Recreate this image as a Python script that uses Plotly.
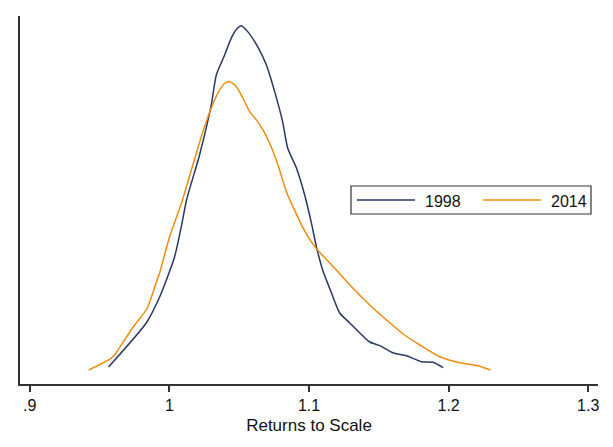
import plotly.graph_objects as go

# Kernel density estimates of Returns to Scale
rts_1998 = [0.9564, 0.9834, 0.9930, 1.0037, 1.0085, 1.0123, 1.0216, 1.0300, 1.0336,
            1.0396, 1.0444, 1.0482, 1.0515, 1.0561, 1.0632, 1.0695, 1.0754, 1.0811,
            1.0847, 1.0910, 1.0969, 1.1017, 1.1053, 1.1098, 1.1161, 1.1220, 1.1292,
            1.1364, 1.1435, 1.1507, 1.1600, 1.1698, 1.1806, 1.1887, 1.1961]
dens_1998 = [0.607, 2.179, 3.107, 4.536, 5.607, 6.571, 8.179, 9.964, 11.036,
             11.75, 12.357, 12.679, 12.796, 12.582, 12.046, 11.393, 10.439, 9.368,
             8.429, 7.714, 6.75, 5.75, 4.904, 4.071, 3.25, 2.536, 2.179,
             1.821, 1.5, 1.368, 1.118, 1.011, 0.796, 0.775, 0.582]

rts_2014 = [0.9423, 0.9571, 0.9607, 0.9738, 0.9840, 0.9912, 0.9930, 1.0001, 1.0087,
            1.0168, 1.0240, 1.0300, 1.0360, 1.0396, 1.0432, 1.0480, 1.0527, 1.0575,
            1.0623, 1.0670, 1.0718, 1.0778, 1.0838, 1.0885, 1.0957, 1.1041, 1.1196,
            1.1315, 1.1435, 1.1555, 1.1674, 1.1794, 1.1937, 1.2080, 1.2211, 1.2300]
dens_2014 = [0.5, 0.875, 1.036, 2.018, 2.696, 3.714, 3.964, 5.25, 6.464,
             7.821, 9.011, 9.857, 10.5, 10.739, 10.796, 10.618, 10.204, 9.725,
             9.429, 9.071, 8.596, 7.821, 6.868, 6.332, 5.571, 4.904, 4.071,
             3.418, 2.821, 2.286, 1.786, 1.393, 0.975, 0.761, 0.654, 0.5]

x_ticks = [0.9, 1.0, 1.1, 1.2, 1.3]
x_tick_labels = [".9", "1", "1.1", "1.2", "1.3"]
series_names = ["1998", "2014"]
series_colors = ["#2a3766", "#f28c0f"]

W, H = 613, 447
ML, MR, MT, MB = 20, 15, 16, 63
PW, PH = W - ML - MR, H - MT - MB


def px_x(p):
    return (p - ML) / PW


def px_y(p):
    return (H - MB - p) / PH


fig = go.Figure()
for xs, ys, name, col in [(rts_1998, dens_1998, series_names[0], series_colors[0]),
                          (rts_2014, dens_2014, series_names[1], series_colors[1])]:
    fig.add_trace(go.Scatter(x=xs, y=ys, mode="lines", name=name, showlegend=False,
                             line=dict(color=col, width=1.5, shape="spline", smoothing=0.6)))

# Legend (Stata-style boxed legend)
shapes = [dict(type="rect", xref="paper", yref="paper",
               x0=px_x(351), x1=px_x(591), y0=px_y(214), y1=px_y(186),
               line=dict(color="#333333", width=1.2), fillcolor="white", layer="above")]
annotations = []
for i, (name, col) in enumerate(zip(series_names, series_colors)):
    x0 = 357 + i * 126
    shapes.append(dict(type="line", xref="paper", yref="paper",
                       x0=px_x(x0), x1=px_x(x0 + 58), y0=px_y(200), y1=px_y(200),
                       line=dict(color=col, width=1.5), layer="above"))
    annotations.append(dict(xref="paper", yref="paper", x=px_x(x0 + 66), y=px_y(201),
                            xanchor="left", yanchor="middle", text=name, showarrow=False,
                            font=dict(size=16, color="#111111")))

fig.update_layout(
    width=W, height=H,
    margin=dict(l=ML, r=MR, t=MT, b=MB),
    paper_bgcolor="white", plot_bgcolor="white",
    font=dict(family="Liberation Sans, Arial, sans-serif", size=16, color="#111111"),
    showlegend=False,
    shapes=shapes, annotations=annotations,
    xaxis=dict(range=[0.893, 1.307], tickvals=x_ticks, ticktext=x_tick_labels,
               showgrid=False, zeroline=False, showline=True, linecolor="#333333",
               linewidth=1.5, ticks="outside", ticklen=6, tickcolor="#333333",
               tickwidth=1.5, tickfont=dict(size=16),
               title=dict(text="Returns to Scale", font=dict(size=17), standoff=6)),
    yaxis=dict(range=[0, 13.14], showgrid=False, zeroline=False, showline=True,
               linecolor="#333333", linewidth=1.5, showticklabels=False, ticks=""),
)

fig.write_html("out.html", config={"displayModeBar": False},
               post_script="document.body.style.margin='0';")
